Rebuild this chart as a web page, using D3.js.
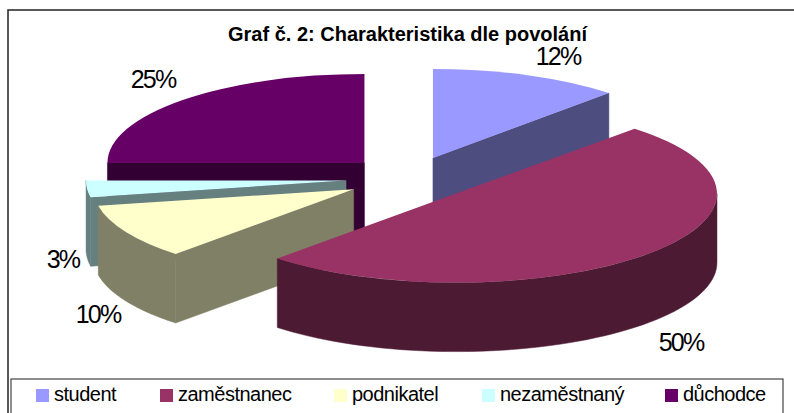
<!DOCTYPE html>
<html>
<head>
<meta charset="utf-8">
<title>Graf 2</title>
<script src="https://d3js.org/d3.v7.min.js" charset="utf-8"></script>
<style>
html, body { margin: 0; padding: 0; background: #fff; overflow: hidden; }
svg { display: block; font-family: "Liberation Sans", Arial, sans-serif; }
</style>
</head>
<body>
<script>
var width = 794;
var height = 413;

var categories = ["student", "zaměstnanec", "podnikatel", "nezaměstnaný", "důchodce"];
var values = [12, 50, 10, 3, 25];
var topColors = ["#9999ff", "#993366", "#ffffcc", "#ccffff", "#660066"];
var sideColors = ["#4d4d80", "#4d1a33", "#808066", "#668080", "#330033"];
// back to front
var drawOrder = [4, 0, 3, 2, 1];

var chartTitle = "Graf č. 2: Charakteristika dle povolání";

var cx = 409.5, cy = 178.5;
var rx = 257, ry = 89;
// perspective: near slices come out a bit wider
var sliceRx = [257, 261, 260, 260, 257];
var depth = 69;
var explode = 0.248;

var svg = d3.select("body").append("svg")
  .attr("width", width)
  .attr("height", height);

// outer frame
svg.append("rect").attr("x", 8).attr("y", 10).attr("width", 800).attr("height", 420)
  .attr("fill", "#fff").attr("stroke", "#222").attr("stroke-width", 1.5);

svg.append("text")
  .attr("x", 407.5).attr("y", 41)
  .attr("text-anchor", "middle")
  .attr("font-size", 20).attr("font-weight", "bold")
  .attr("letter-spacing", 0)
  .attr("fill", "#000")
  .text(chartTitle);

var slices = d3.pie().sort(null)(values);

var line = d3.line().x(function(d) { return d[0]; }).y(function(d) { return d[1]; });

// band hanging below a run of top-face points
function wall(pts) {
  var low = pts.slice().reverse().map(function(p) { return [p[0], p[1] + depth]; });
  return line(pts.concat(low)) + "Z";
}

var unitArc = d3.arc().innerRadius(0).outerRadius(100);

drawOrder.forEach(function(i) {
  var s = slices[i];
  var r = sliceRx[i];
  var mid = (s.startAngle + s.endAngle) / 2;
  var g = svg.append("g")
    .attr("transform", "translate(" + (cx + explode * rx * Math.sin(mid)) + "," + (cy - explode * ry * Math.cos(mid)) + ")");

  function pt(a) { return [r * Math.sin(a), -ry * Math.cos(a)]; }

  // straight cut faces turned to the viewer
  if (s.startAngle > Math.PI && s.startAngle <= Math.PI * 1.5 + 1e-6) {
    g.append("path").attr("d", wall([[0, 0], pt(s.startAngle)]))
      .attr("fill", sideColors[i]).attr("stroke", sideColors[i]).attr("stroke-width", 0.5);
  }
  if (s.endAngle < Math.PI / 2) {
    g.append("path").attr("d", wall([[0, 0], pt(s.endAngle)]))
      .attr("fill", sideColors[i]).attr("stroke", sideColors[i]).attr("stroke-width", 0.5);
  }

  // outer rim, only the part on the near side
  var a0 = Math.max(s.startAngle, Math.PI / 2);
  var a1 = Math.min(s.endAngle, Math.PI * 1.5);
  if (a1 > a0) {
    var pts = d3.range(0, 61).map(function(k) { return pt(a0 + (a1 - a0) * k / 60); });
    g.append("path").attr("d", wall(pts))
      .attr("fill", sideColors[i]).attr("stroke", sideColors[i]).attr("stroke-width", 0.5);
  }

  g.append("path")
    .attr("transform", "scale(" + (r / 100) + "," + (ry / 100) + ")")
    .attr("d", unitArc(s))
    .attr("fill", topColors[i]);
});

// percent labels
var labelText = values.map(function(v) { return v + "%"; });
var labelX = [558, 681, 98, 63, 153];
var labelY = [65, 351, 323, 268, 88];
labelText.forEach(function(t, i) {
  svg.append("text")
    .attr("x", labelX[i]).attr("y", labelY[i])
    .attr("text-anchor", "middle")
    .attr("font-size", 25).attr("letter-spacing", -1.8)
    .attr("fill", "#000")
    .text(t);
});

// legend
svg.append("rect").attr("x", 11).attr("y", 379).attr("width", 772).attr("height", 50)
  .attr("fill", "#fff").attr("stroke", "#444").attr("stroke-width", 1.2);

var legendX = [36, 160, 334, 482, 665];
categories.forEach(function(c, i) {
  svg.append("rect").attr("x", legendX[i]).attr("y", 389).attr("width", 13).attr("height", 13)
    .attr("fill", topColors[i]);
  svg.append("text")
    .attr("x", legendX[i] + 18).attr("y", 401)
    .attr("font-size", 20).attr("letter-spacing", -0.5)
    .attr("fill", "#000")
    .text(c);
});
</script>
</body>
</html>
